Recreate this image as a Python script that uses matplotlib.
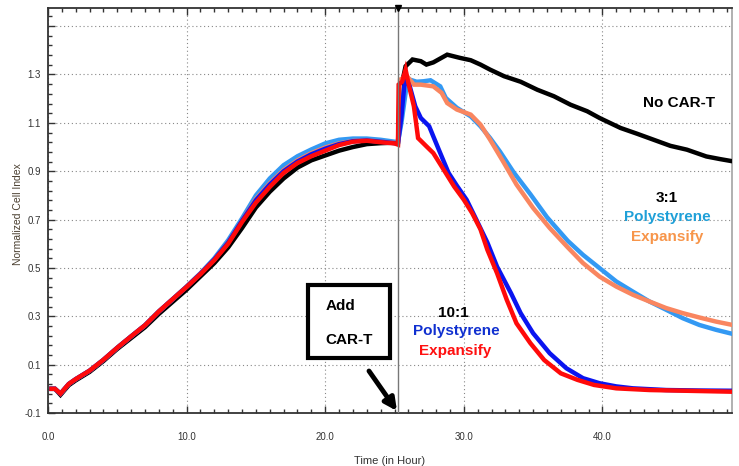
import numpy as np
import matplotlib.pyplot as plt
from matplotlib.patches import Rectangle, FancyArrowPatch

# ----------------------------------------------------------------------
# Messwerte (abgelesen), Zeit in h, normierter Cell Index
# ----------------------------------------------------------------------
t_pre = [0.25, 0.5, 0.9, 1.2, 1.5, 2, 3, 4, 5, 6, 7, 8, 9, 10, 11, 12, 13,
         14, 15, 16, 17, 18, 19, 20, 21, 22, 23, 24, 25, 25.25]

no_cart_pre = [0.0, 0.0, -0.025, -0.005, 0.015, 0.035, 0.07, 0.115, 0.165,
               0.21, 0.255, 0.31, 0.36, 0.41, 0.465, 0.52, 0.585, 0.665,
               0.75, 0.815, 0.87, 0.915, 0.945, 0.965, 0.985, 1.0, 1.012,
               1.016, 1.018, 1.02]
ps31_pre = [0.0, 0.0, -0.02, 0.0, 0.02, 0.04, 0.075, 0.12, 0.17, 0.217,
            0.263, 0.32, 0.371, 0.423, 0.478, 0.54, 0.615, 0.705, 0.8, 0.87,
            0.925, 0.962, 0.99, 1.015, 1.03, 1.035, 1.035, 1.03, 1.022, 1.02]
ex31_pre = [0.0, 0.0, -0.02, 0.0, 0.02, 0.04, 0.075, 0.12, 0.17, 0.217,
            0.263, 0.32, 0.371, 0.423, 0.477, 0.535, 0.605, 0.695, 0.785,
            0.85, 0.905, 0.945, 0.975, 0.998, 1.015, 1.025, 1.028, 1.022,
            1.017, 1.015]
ps101_pre = [0.0, 0.0, -0.02, 0.0, 0.02, 0.04, 0.075, 0.12, 0.17, 0.217,
             0.263, 0.32, 0.371, 0.422, 0.476, 0.535, 0.605, 0.695, 0.78,
             0.845, 0.9, 0.94, 0.97, 0.993, 1.012, 1.024, 1.027, 1.022,
             1.016, 1.015]
ex101_pre = [0.0, 0.0, -0.02, 0.0, 0.02, 0.04, 0.075, 0.12, 0.17, 0.217,
             0.263, 0.32, 0.371, 0.421, 0.474, 0.532, 0.6, 0.69, 0.77, 0.835,
             0.893, 0.934, 0.962, 0.985, 1.008, 1.022, 1.026, 1.02, 1.015,
             1.01]

t_nc = [25.4, 25.6, 25.8, 26.3, 26.9, 27.3, 27.8, 28.8, 29.7, 30.5, 31.2,
        31.9, 32.9, 34.1, 35.3, 36.5, 37.7, 38.9, 39.8, 41.3, 42.5, 43.7,
        44.9, 46.1, 47.5, 48.5, 49.4]
no_cart_post = [1.155, 1.28, 1.334, 1.362, 1.355, 1.341, 1.35, 1.382, 1.369,
                1.359, 1.341, 1.32, 1.293, 1.27, 1.237, 1.21, 1.175, 1.148,
                1.12, 1.079, 1.055, 1.03, 1.005, 0.989, 0.961, 0.95, 0.941]

t_ps31 = [25.5, 25.9, 26.1, 26.6, 27.1, 27.6, 28.3, 28.7, 29.5, 30.5, 31.2,
          31.9, 32.6, 33.6, 34.8, 36.0, 37.5, 38.6, 39.8, 41.0, 42.2, 43.4,
          44.6, 45.8, 47.0, 48.2, 49.4]
ps31_post = [1.10, 1.265, 1.279, 1.27, 1.272, 1.276, 1.251, 1.203, 1.162,
             1.127, 1.086, 1.037, 0.982, 0.895, 0.805, 0.71, 0.612, 0.554,
             0.499, 0.444, 0.402, 0.361, 0.327, 0.292, 0.264, 0.244, 0.227]

t_ex31 = [25.4, 25.9, 26.4, 26.9, 27.8, 28.4, 28.8, 29.5, 30.5, 31.2, 31.9,
          32.9, 33.8, 35.0, 36.2, 37.5, 38.6, 39.8, 41.0, 42.2, 43.4, 44.6,
          45.8, 47.0, 48.2, 49.4]
ex31_post = [1.279, 1.293, 1.258, 1.258, 1.251, 1.224, 1.182, 1.155, 1.134,
             1.093, 1.03, 0.934, 0.845, 0.748, 0.665, 0.585, 0.52, 0.464,
             0.423, 0.389, 0.361, 0.334, 0.313, 0.295, 0.278, 0.264]

t_ps101 = [25.5, 25.7, 25.85, 26.1, 26.5, 26.9, 27.5, 27.8, 28.3, 28.9,
           29.5, 30.2, 30.9, 31.7, 32.4, 33.4, 34.1, 35.0, 36.2, 37.4, 38.6,
           39.8, 41.0, 42.2, 44.6, 47.0, 49.4]
ps101_post = [1.127, 1.251, 1.279, 1.251, 1.168, 1.12, 1.086, 1.044, 0.975,
              0.893, 0.84, 0.782, 0.7, 0.605, 0.505, 0.396, 0.313, 0.23,
              0.147, 0.085, 0.044, 0.023, 0.01, 0.002, -0.005, -0.007, -0.008]

t_ex101 = [25.3, 25.55, 25.8, 26.0, 26.4, 26.7, 27.3, 27.8, 28.4, 29.3, 30.0,
           30.6, 31.2, 31.7, 32.4, 33.1, 33.8, 34.8, 35.8, 37.0, 38.2, 39.4,
           41.0, 43.4, 46.0, 49.4]
ex101_post = [1.258, 1.27, 1.32, 1.265, 1.168, 1.037, 1.003, 0.975, 0.92,
              0.837, 0.782, 0.727, 0.66, 0.575, 0.478, 0.368, 0.271, 0.189,
              0.119, 0.064, 0.037, 0.016, 0.002, -0.005, -0.008, -0.012]

T_ADD = 25.25

# ----------------------------------------------------------------------
# PLOT
# ----------------------------------------------------------------------
fig = plt.figure(figsize=(7.39, 4.66), dpi=100)
ax = fig.add_axes([48 / 739, 1 - 413 / 466, (732 - 48) / 739, (413 - 8) / 466])

reihen = [
    (t_pre + t_nc, no_cart_pre + no_cart_post, "black"),
    (t_pre + t_ps31, ps31_pre + ps31_post, "#3399f3"),
    (t_pre + t_ex31, ex31_pre + ex31_post, "#f98660"),
    (t_pre + t_ps101, ps101_pre + ps101_post, "#0a14f0"),
    (t_pre + t_ex101, ex101_pre + ex101_post, "#ff0a0a"),
]
for t, y, c in reihen:
    ax.plot(t, y, color=c, lw=3.2, solid_joinstyle="miter", zorder=3)

ax.set_xlim(0, 49.35)
ax.set_ylim(-0.1, 1.575)

ax.set_xticks([0, 10, 20, 30, 40])
ax.set_xticklabels(["0.0", "10.0", "20.0", "30.0", "40.0"])
ax.set_xticks(np.arange(0, 50, 1), minor=True)
yt = [-0.1, 0.1, 0.3, 0.5, 0.7, 0.9, 1.1, 1.3, 1.5]
ax.set_yticks(yt)
ax.set_yticklabels(["-0.1", "0.1", "0.3", "0.5", "0.7", "0.9", "1.1", "1.3", ""])
ax.set_yticks(np.arange(-0.1, 1.58, 0.04), minor=True)

tickfont = ["Liberation Sans Narrow", "Liberation Sans", "DejaVu Sans"]
ax.tick_params(which="both", direction="in", top=True, right=False,
               colors="#333333", width=1.0)
ax.tick_params(which="major", length=5)
ax.tick_params(which="minor", length=3)
ax.tick_params(axis="x", pad=14, labelsize=7)
ax.tick_params(axis="y", pad=5, labelsize=7)
for lab in ax.get_xticklabels() + ax.get_yticklabels():
    lab.set_family(tickfont)

ax.grid(True, which="major", ls=(0, (1, 2.5)), color="#888888", lw=0.8)
for s in ["left", "bottom", "top"]:
    ax.spines[s].set_color("#333333")
    ax.spines[s].set_linewidth(1.3)
ax.spines["right"].set_color("#aaaaaa")
ax.spines["right"].set_linewidth(1.3)

ax.axvline(T_ADD, color="#777777", lw=1.0, zorder=4)
ax.plot([T_ADD], [1.575], marker="v", color="black", ms=5, clip_on=False,
        zorder=6)

ax.set_xlabel("Time (in Hour)", fontsize=8, family=tickfont, color="#333333")
ax.xaxis.set_label_coords(0.5, -0.105)
ax.set_ylabel("Normalized Cell Index", fontsize=7.5, family=tickfont,
              color="#4a3f30")
ax.yaxis.set_label_coords(-0.036, 0.49)

# ----------------------------------------------------------------------
# Beschriftungen
# ----------------------------------------------------------------------
bold = dict(fontsize=11, fontweight="bold", family=["Liberation Sans", "DejaVu Sans"],
            ha="center", va="center", transform=ax.transAxes, zorder=7)

def fx(px):
    return (px - 48) / 684

def fy(py):
    return (413 - py) / 405

ax.text(fx(679), fy(103), "No CAR-T", color="black", **bold)
ax.text(fx(667), fy(198), "3:1", color="black", **bold)
ax.text(fx(667), fy(217), "Polystyrene", color="#1fa0d8", **bold)
ax.text(fx(667), fy(237), "Expansify", color="#f7954a", **bold)
ax.text(fx(453), fy(313), "10:1", color="black", **bold)
ax.text(fx(456), fy(331), "Polystyrene", color="#1030d0", **bold)
ax.text(fx(455), fy(351), "Expansify", color="#ff1010", **bold)

ax.add_patch(Rectangle((fx(307.5), fy(357.5)), fx(389.5) - fx(307.5),
                       fy(284.5) - fy(357.5), transform=ax.transAxes,
                       fill=True, facecolor="white", edgecolor="black",
                       lw=3, zorder=7))
ax.text(fx(340), fy(306), "Add", color="black", **bold)
ax.text(fx(349), fy(340), "CAR-T", color="black", **bold)

ax.add_patch(FancyArrowPatch((fx(369), fy(371)), (fx(397), fy(411)),
                             transform=ax.transAxes, arrowstyle="-|>",
                             mutation_scale=18, lw=3.5, color="black",
                             shrinkA=0, shrinkB=0, zorder=7, clip_on=False))

fig.savefig("out.png", dpi=100)
